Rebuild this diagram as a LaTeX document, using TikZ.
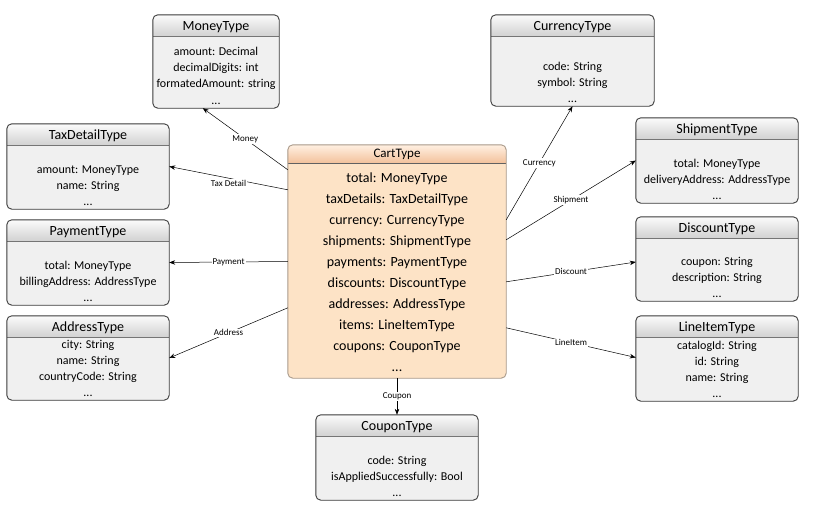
\documentclass[tikz,border=0pt]{standalone}
\usepackage{fontspec}
\setmainfont{Carlito}
\usepackage{tikz}
\usepackage{xcolor}
\usetikzlibrary{calc,arrows.meta}

\definecolor{bodygray}{HTML}{F0F0F0}
\definecolor{headtop}{HTML}{FBFBFB}
\definecolor{headbot}{HTML}{D2D2D2}
\definecolor{edgegray}{HTML}{3A3A3A}
\definecolor{cartbody}{HTML}{FDE3C6}
\definecolor{carttop}{HTML}{FFF0E2}
\definecolor{cartbot}{HTML}{F3C29C}
\definecolor{cartedge}{HTML}{A89888}

\tikzset{
  type body/.style={fill=bodygray, rounded corners=5pt, inner sep=0pt},
  type head/.style={top color=headtop, bottom color=headbot},
  type edge/.style={draw=edgegray, line width=0.9pt, rounded corners=5pt},
  type rule/.style={draw=edgegray!70, line width=0.6pt},
  type title/.style={font=\fontsize{14}{16}\selectfont, inner sep=0pt, yshift=-1.5pt},
  type text/.style={anchor=south, yshift=1pt, align=center, inner sep=2pt,
    font=\fontsize{12}{16}\selectfont},
  cart body/.style={fill=cartbody, rounded corners=5pt, inner sep=0pt},
  cart head/.style={top color=carttop, bottom color=cartbot},
  cart edge/.style={draw=cartedge, line width=0.9pt, rounded corners=5pt},
  cart rule/.style={draw=edgegray!80, line width=0.6pt},
  cart title/.style={font=\fontsize{13}{15}\selectfont, inner sep=0pt, yshift=-1pt},
  cart text/.style={anchor=south, yshift=4pt, align=center, inner sep=2pt,
    font=\fontsize{14}{21}\selectfont},
  link/.style={draw=black, line width=0.5pt, -{Stealth[length=6pt,width=4.5pt]}},
  lbl/.style={fill=white, inner sep=1pt, font=\fontsize{9}{10}\selectfont}
}

% #1 look, #2 name, #3 centre, #4 width, #5 height, #6 title, #7 fields
\newcommand{\typebox}[7][type]{%
  \node[#1 body, minimum width=#4, minimum height=#5] (#2) at (#3) {};
  \begin{scope}
    \clip[rounded corners=5pt] (#2.north west) rectangle (#2.south east);
    \shade[#1 head] (#2.north west) rectangle ($(#2.north east)+(0,\headh)$);
  \end{scope}
  \draw[#1 rule] ($(#2.north west)+(0,\headh)$) -- ($(#2.north east)+(0,\headh)$);
  \draw[#1 edge] (#2.north west) rectangle (#2.south east);
  \node[#1 title] (#2-title) at ($(#2.north)+(0,\headh/2)$) {#6};
  \node[#1 text] (#2-text) at (#2.south) {#7};
}

\begin{document}
\begin{tikzpicture}[x=1pt,y=-1pt]
  \useasboundingbox (0,0) rectangle (813,522);

  \def\headh{21}
  \typebox{money}{216,61.5}{126}{93}{MoneyType}
    {amount: Decimal\\decimalDigits: int\\formatedAmount: string\\[1pt]...}
  \typebox{currency}{572.5,60.5}{163}{91}{CurrencyType}
    {code: String\\symbol: String\\...}
  \typebox{tax}{88,166.5}{162}{85}{TaxDetailType}
    {amount: MoneyType\\name: String\\...}
  \typebox{payment}{88,262.5}{162}{85}{PaymentType}
    {total: MoneyType\\billingAddress: AddressType\\...}
  \typebox{address}{88,358}{162}{84}{AddressType}
    {city: String\\name: String\\countryCode: String\\...}
  \typebox{shipment}{717,160.5}{162}{85}{ShipmentType}
    {total: MoneyType\\deliveryAddress: AddressType\\...}
  \typebox{discount}{717,259}{162}{84}{DiscountType}
    {coupon: String\\description: String\\...}
  \typebox{lineitem}{717,358.5}{162}{85}{LineItemType}
    {catalogId: String\\id: String\\name: String\\...}
  \typebox{coupon}{397,457.5}{162}{85}{CouponType}
    {code: String\\isAppliedSuccessfully: Bool\\...}

  \def\headh{18}
  \typebox[cart]{cart}{397,261.5}{218}{233}{CartType}
    {total: MoneyType\\taxDetails: TaxDetailType\\currency: CurrencyType\\
     shipments: ShipmentType\\payments: PaymentType\\discounts: DiscountType\\
     addresses: AddressType\\items: LineItemType\\coupons: CouponType\\...}

  % links out of the cart
  \draw[link] ($(cart.north west)+(0,25)$) -- node[lbl] {Money} ($(money.south west)+(50,0)$);
  \draw[link] ($(cart.north west)+(0,45)$) -- node[lbl, yshift=-5pt] {Tax Detail} (tax.east);
  \draw[link] (cart.west) -- node[lbl] {Payment} (payment.east);
  \draw[link] ($(cart.north west)+(0,163)$) -- node[lbl] {Address} (address.east);
  \draw[link] ($(cart.north east)+(0,75)$) -- node[lbl] {Currency} (currency.south);
  \draw[link] ($(cart.north east)+(0,95)$) -- node[lbl] {Shipment} (shipment.west);
  \draw[link] ($(cart.north east)+(0,137)$) -- node[lbl] {Discount} ($(discount.west)+(0,3)$);
  \draw[link] ($(cart.north east)+(0,183)$) -- node[lbl] {LineItem} ($(lineitem.west)+(0,-1)$);
  \draw[link] (cart.south) -- node[lbl] {Coupon} (coupon.north);
\end{tikzpicture}
\end{document}
